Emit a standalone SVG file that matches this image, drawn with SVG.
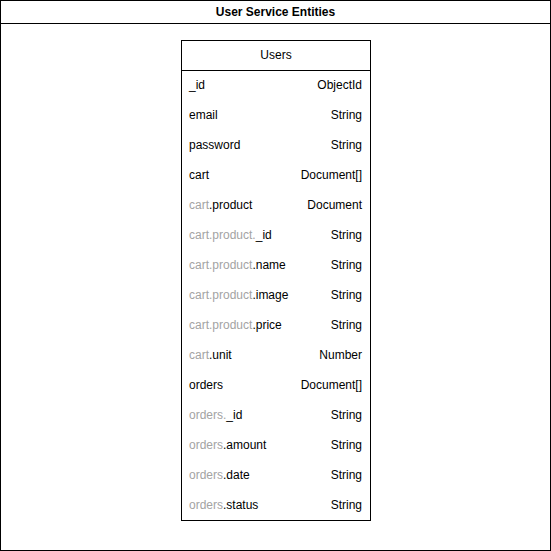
<svg xmlns="http://www.w3.org/2000/svg" width="551" height="551" viewBox="0 0 551 551">
<style>
text{font-family:"Liberation Sans",Arial,Helvetica,sans-serif;font-size:12px;fill:#000}
.t{font-weight:bold}
.r{text-anchor:end}
.g{fill:#a3a3a3}
.box{fill:#fff;stroke:#000;stroke-width:1}
</style>
<rect width="551" height="551" fill="#fff"/>
<g id="frame">
<rect class="box" x="0.5" y="0.5" width="550" height="550"/>
<line x1="0.5" y1="23.5" x2="550.5" y2="23.5" stroke="#000"/>
<text class="t" x="275.5" y="16" text-anchor="middle">User Service Entities</text>
</g>
<g id="users">
<rect class="box" x="181.5" y="40.5" width="189" height="480"/>
<line x1="181.5" y1="70.5" x2="370.5" y2="70.5" stroke="#000"/>
<text x="276" y="59" text-anchor="middle">Users</text>
<text x="189" y="89">_id</text><text class="r" x="362" y="89">ObjectId</text>
<text x="189" y="119">email</text><text class="r" x="362" y="119">String</text>
<text x="189" y="149">password</text><text class="r" x="362" y="149">String</text>
<text x="189" y="179">cart</text><text class="r" x="362" y="179">Document[]</text>
<text x="189" y="209"><tspan class="g">cart</tspan>.product</text><text class="r" x="362" y="209">Document</text>
<text x="189" y="239"><tspan class="g">cart.product.</tspan>_id</text><text class="r" x="362" y="239">String</text>
<text x="189" y="269"><tspan class="g">cart.product</tspan>.name</text><text class="r" x="362" y="269">String</text>
<text x="189" y="299"><tspan class="g">cart.product</tspan>.image</text><text class="r" x="362" y="299">String</text>
<text x="189" y="329"><tspan class="g">cart.product</tspan>.price</text><text class="r" x="362" y="329">String</text>
<text x="189" y="359"><tspan class="g">cart</tspan>.unit</text><text class="r" x="362" y="359">Number</text>
<text x="189" y="389">orders</text><text class="r" x="362" y="389">Document[]</text>
<text x="189" y="419"><tspan class="g">orders.</tspan>_id</text><text class="r" x="362" y="419">String</text>
<text x="189" y="449"><tspan class="g">orders</tspan>.amount</text><text class="r" x="362" y="449">String</text>
<text x="189" y="479"><tspan class="g">orders</tspan>.date</text><text class="r" x="362" y="479">String</text>
<text x="189" y="509"><tspan class="g">orders</tspan>.status</text><text class="r" x="362" y="509">String</text>
</g>
</svg>
